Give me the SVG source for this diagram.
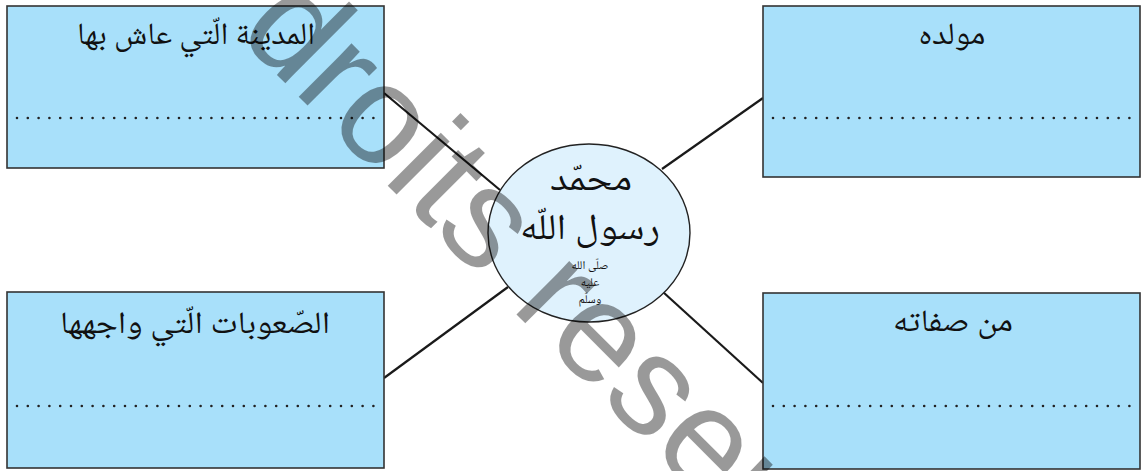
<svg xmlns="http://www.w3.org/2000/svg" width="1141" height="471" viewBox="0 0 1141 471">
<style>
.box{fill:#a8e0fa;stroke:#333;stroke-width:1.6}
.hub{fill:#dff2fd;stroke:#222;stroke-width:1.4}
.dots{stroke:#222;stroke-width:2.6;stroke-linecap:round;stroke-dasharray:0 10.8;fill:none}
.con{stroke:#1a1a1a;stroke-width:2.2;fill:none}
.t{font-family:"Noto Naskh Arabic","DejaVu Sans",sans-serif;fill:#111;text-anchor:middle;direction:rtl}
.wm{font-family:"Liberation Sans",Arial,sans-serif;font-size:142px;fill:#000;fill-opacity:0.4}
</style>
<rect width="1141" height="471" fill="#fff"/>
<g id="connectors">
<line class="con" x1="384" y1="93" x2="500" y2="190"/>
<line class="con" x1="763" y1="98" x2="662" y2="169"/>
<line class="con" x1="384" y1="378" x2="508" y2="287"/>
<line class="con" x1="763" y1="383" x2="663" y2="292"/>
</g>
<g id="box-city">
<rect class="box" x="7" y="6" width="377" height="162"/>
<text class="t" x="196" y="44" font-size="31" textLength="238" lengthAdjust="spacingAndGlyphs">المدينة الّتي عاش بها</text>
<line class="dots" x1="17" y1="118" x2="375" y2="118"/>
</g>
<g id="box-birth">
<rect class="box" x="763" y="6" width="377" height="171"/>
<text class="t" x="952" y="44" font-size="31" textLength="67" lengthAdjust="spacingAndGlyphs">مولده</text>
<line class="dots" x1="773" y1="118" x2="1131" y2="118"/>
</g>
<g id="box-hardships">
<rect class="box" x="7" y="292" width="377" height="176"/>
<text class="t" x="195" y="333" font-size="31" textLength="270" lengthAdjust="spacingAndGlyphs">الصّعوبات الّتي واجهها</text>
<line class="dots" x1="17" y1="406" x2="375" y2="406"/>
</g>
<g id="box-traits">
<rect class="box" x="763" y="293" width="377" height="176"/>
<text class="t" x="953" y="331" font-size="31" textLength="120" lengthAdjust="spacingAndGlyphs">من صفاته</text>
<line class="dots" x1="773" y1="406" x2="1131" y2="406"/>
</g>
<g id="hub">
<ellipse class="hub" cx="589" cy="233" rx="101" ry="89"/>
<text class="t" x="591" y="190" font-size="36" textLength="82" lengthAdjust="spacingAndGlyphs">محمّد</text>
<text class="t" x="590" y="239" font-size="36" textLength="140" lengthAdjust="spacingAndGlyphs">رسول اللّه</text>
<text class="t" x="590" y="269" font-size="12">صلّى الله</text>
<text class="t" x="590" y="286" font-size="12">عليه</text>
<text class="t" x="590" y="303" font-size="12">وسلّم</text>
</g>
<g id="watermark">
<text class="wm" x="0" y="0" transform="translate(236,34) rotate(45)">droits reserves</text>
</g>
</svg>
